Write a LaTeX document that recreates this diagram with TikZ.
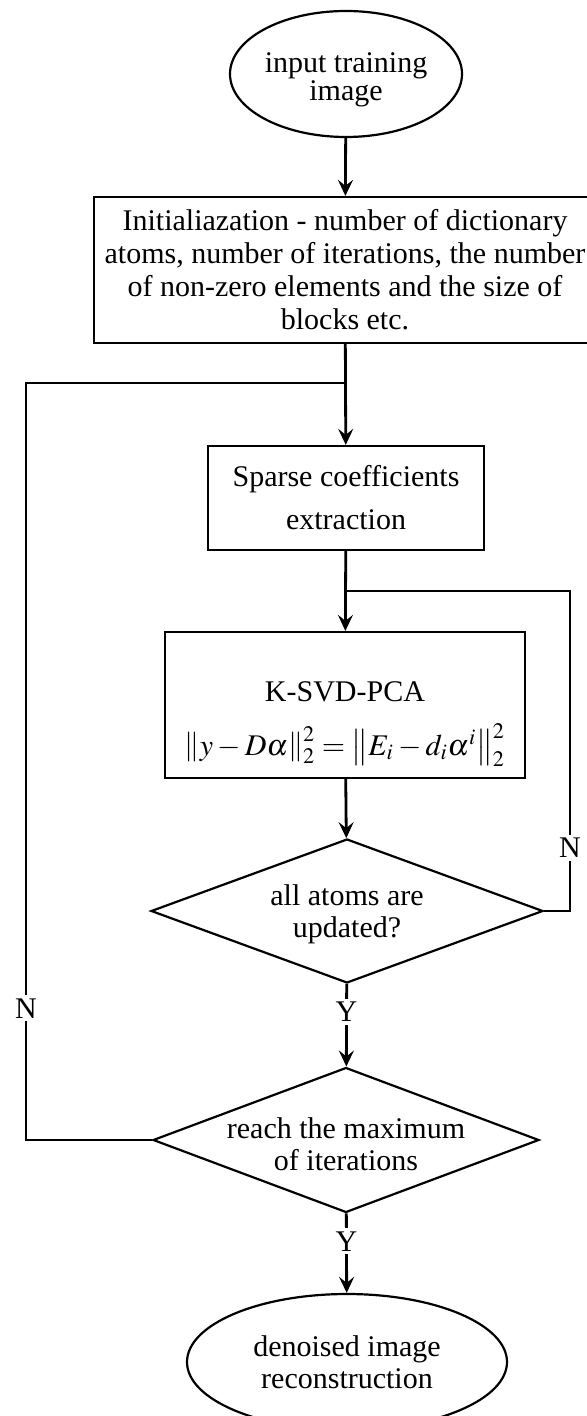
\documentclass[tikz,border=0pt]{standalone}
\usepackage{mathptmx}
\usepackage[no-math]{fontspec}
\setmainfont{Liberation Serif}
\usetikzlibrary{shapes.geometric,arrows.meta}
\begin{document}
\begin{tikzpicture}[x=0.5pt,y=-0.5pt,
  every node/.style={font=\fontsize{15}{16.5}\selectfont},
  box/.style={draw, line width=1.1pt, rectangle, inner sep=0pt, align=center},
  term/.style={draw, line width=1.1pt, ellipse, inner sep=0pt, align=center},
  dia/.style={draw, line width=1.1pt, diamond, inner sep=0pt},
  lbl/.style={align=center, inner sep=0pt},
  conn/.style={line width=1.4pt},
  arr/.style={conn, -{Stealth[length=8pt,width=7.5pt,inset=3pt]}},
  yn/.style={fill=white, inner sep=1.5pt}]
\useasboundingbox (0,0) rectangle (587,1416);

\node[term, minimum width=116pt, minimum height=63pt] (start) at (346,74) {};
\node[lbl, font=\fontsize{15}{14}\selectfont] (startt) at (346,80) {input training\\image};
\node[box, minimum width=251pt, minimum height=73pt] (init) at (345,270)
  {Initialiazation - number of dictionary\\atoms, number of iterations, the number\\of non-zero elements and the size of\\blocks etc.};
\node[box, minimum width=138pt, minimum height=52pt, font=\fontsize{15}{21.5}\selectfont] (sparse) at (346,498)
  {Sparse coefficients\\extraction};
\node[box, minimum width=180pt, minimum height=73pt] (ksvd) at (345,705) {};
\node[lbl] (ksvdt) at (345,692) {K-SVD-PCA};
\node[lbl] (ksvdf) at (345,745) {$\left\| y - D\alpha \right\|_2^2 = \left\| E_i - d_i\alpha^i \right\|_2^2$};
\node[dia, minimum width=196pt, minimum height=72pt] (d1) at (347,911) {};
\node[lbl, font=\fontsize{15}{16}\selectfont] (d1t) at (347,914) {all atoms are\\updated?};
\node[dia, minimum width=193pt, minimum height=72.5pt] (d2) at (346,1140) {};
\node[lbl, font=\fontsize{15}{16}\selectfont] (d2t) at (346,1144) {reach the maximum\\of iterations};
\node[term, minimum width=160pt, minimum height=68pt, font=\fontsize{15}{16}\selectfont] (end) at (347,1362)
  {denoised image\\reconstruction};

\coordinate (j1) at (346,383);
\coordinate (lc1) at (26,1140);
\coordinate (lc2) at (26,383);
\coordinate (j2) at (346,591);
\coordinate (rc1) at (570,911);
\coordinate (rc2) at (570,591);

\draw[arr] (start) -- (init);
\draw[arr] (init) -- (sparse);
\draw[conn] (d2.west) -- (lc1) -- node[yn,pos=0.174]{N} (lc2) -- (j1);
\draw[arr] (sparse) -- (ksvd);
\draw[conn] (d1.east) -- (rc1) -- node[yn,pos=0.197]{N} (rc2) -- (j2);
\draw[arr] (ksvd) -- (d1);
\draw[arr] (d1) -- node[yn,pos=0.34]{Y} (d2);
\draw[arr] (d2) -- node[yn,pos=0.35]{Y} (end);
\end{tikzpicture}
\end{document}
